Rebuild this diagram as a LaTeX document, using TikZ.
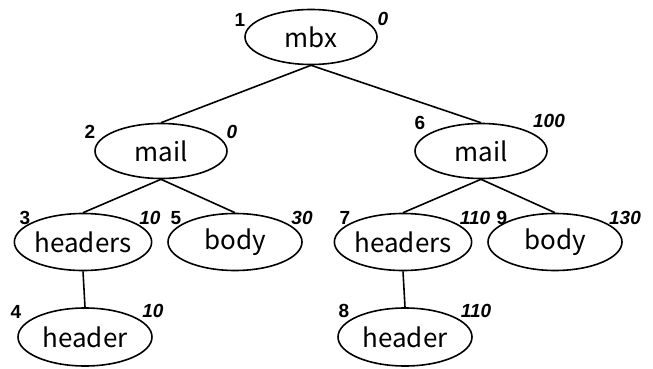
\documentclass[tikz,border=0pt]{standalone}
\usepackage{fontspec}
\setmainfont{Noto Sans CJK JP}
\newfontfamily\numfont{Liberation Sans}
\usetikzlibrary{shapes.geometric}
\tikzset{
  elnode/.style={ellipse, draw, line width=1.6pt, inner sep=0pt, minimum width=132pt, minimum height=55pt, font=\fontsize{26}{28}\selectfont},
  idlab/.style={font=\numfont\bfseries\fontsize{19}{20}\selectfont, inner sep=0pt},
  vallab/.style={font=\numfont\bfseries\itshape\fontsize{19}{20}\selectfont, inner sep=0pt},
  edge/.style={line width=1.6pt}
}
\begin{document}
\begin{tikzpicture}[x=1pt,y=-1pt]
\useasboundingbox (0,0) rectangle (653,369);
% nodes
\node[elnode] (mbx) at (311,37) {mbx};
\node[elnode] (mailL) at (161,151) {mail};
\node[elnode] (mailR) at (481,151) {mail};
\node[elnode, minimum width=128pt, minimum height=57pt] (headersL) at (83,242) {headers};
\node[elnode, minimum width=134pt, minimum height=57pt] (bodyL) at (235,242) {body};
\node[elnode, minimum width=128pt, minimum height=57pt] (headersR) at (403,242) {headers};
\node[elnode, minimum width=134pt, minimum height=57pt] (bodyR) at (555,242) {body};
\node[elnode, minimum width=134pt, minimum height=58pt] (headerL) at (85,337) {header};
\node[elnode, minimum width=134pt, minimum height=58pt] (headerR) at (405,337) {header};
% edges
\draw[edge] (mbx.south) -- (mailL.north);
\draw[edge] (mbx.south) -- (mailR.north);
\draw[edge] (mailL.south) -- (headersL.north);
\draw[edge] (mailL.south) -- (bodyL.north);
\draw[edge] (mailR.south) -- (headersR.north);
\draw[edge] (mailR.south) -- (bodyR.north);
\draw[edge] (headersL.south) -- (headerL.north);
\draw[edge] (headersR.south) -- (headerR.north);
% labels
\node[idlab] (n1) at (240,20) {1};
\node[vallab] (v1) at (383,19) {0};
\node[idlab] (n2) at (90,132) {2};
\node[vallab] (v2) at (232,132) {0};
\node[idlab] (n6) at (420,123) {6};
\node[vallab] (v6) at (549,121) {100};
\node[idlab] (n3) at (25,218) {3};
\node[vallab] (v3) at (150,218) {10};
\node[idlab] (n5) at (176,218) {5};
\node[vallab] (v5) at (302,218) {30};
\node[idlab] (n7) at (345,218) {7};
\node[vallab] (v7) at (475,218) {110};
\node[idlab] (n9) at (502,218) {9};
\node[vallab] (v9) at (625,218) {130};
\node[idlab] (n4) at (16,312) {4};
\node[vallab] (v4) at (153,311) {10};
\node[idlab] (n8) at (344,311) {8};
\node[vallab] (v8) at (476,311) {110};
\end{tikzpicture}
\end{document}
